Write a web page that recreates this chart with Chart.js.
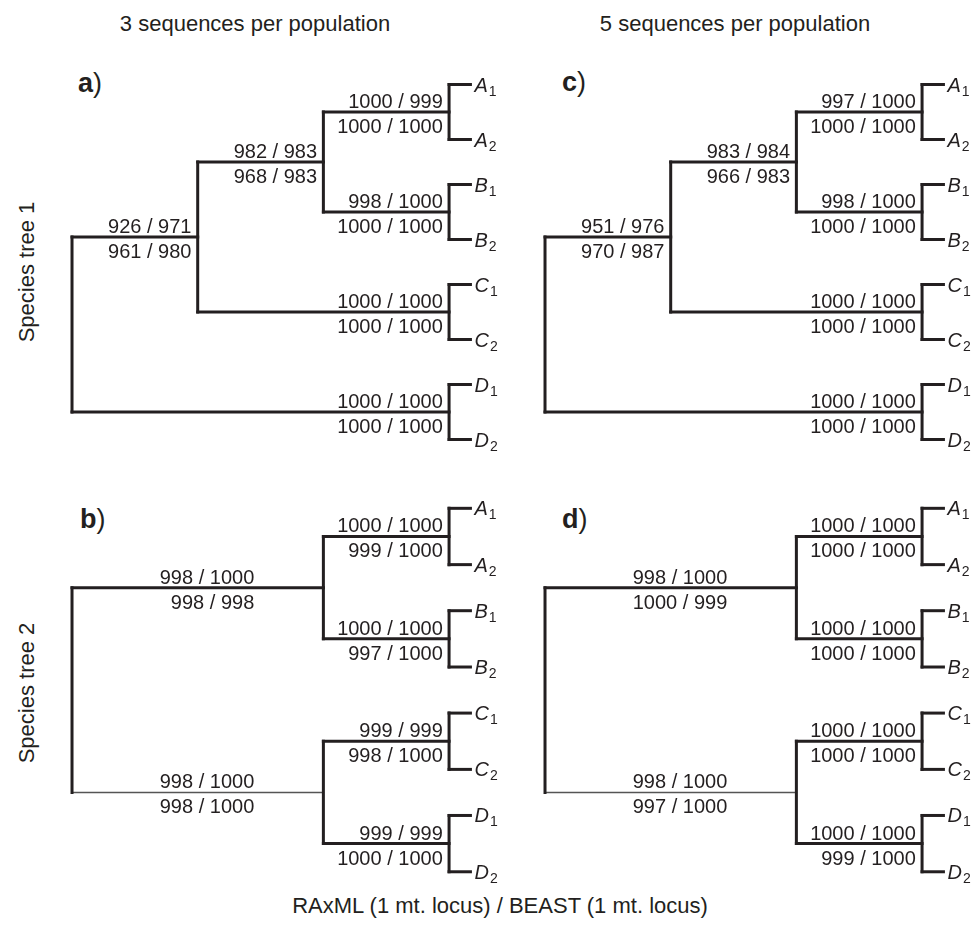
<!DOCTYPE html>
<html>
<head>
<meta charset="utf-8">
<script src="https://cdn.jsdelivr.net/npm/chart.js@4.4.1/dist/chart.umd.min.js"></script>
<style>
    body {
        margin: 0;
        width: 979px;
        height: 942px;
        background: #fff;
        position: relative;
        overflow: hidden;
        font-family: 'Liberation Sans', Arial, sans-serif;
        color: #231f20;
    }
    canvas { position: absolute; }
    .label { position: absolute; white-space: nowrap; }
    .title { font-size: 22px; transform: translate(-50%, -50%); }
    .side { font-size: 22px; transform: translate(-50%, -50%) rotate(-90deg); }
    .letter { font-size: 27px; line-height: 1; }
    .letter b { font-weight: bold; }
</style>
</head>
<body>

<div class="label title" style="left:255px; top:24px;">3 sequences per population</div>
<div class="label title" style="left:735px; top:24px;">5 sequences per population</div>
<div class="label side" style="left:27px; top:272px;">Species tree 1</div>
<div class="label side" style="left:27px; top:693px;">Species tree 2</div>
<div class="label title" style="left:500px; top:906px; font-size:22px;">RAxML (1 mt. locus) / BEAST (1 mt. locus)</div>

<div class="label letter" style="left:78px; top:70px;"><b>a</b>)</div>
<div class="label letter" style="left:80px; top:506px;"><b>b</b>)</div>
<div class="label letter" style="left:562px; top:69px;"><b>c</b>)</div>
<div class="label letter" style="left:562px; top:506px;"><b>d</b>)</div>

<canvas id="panelA" width="506" height="420" style="left:0px; top:50px;"></canvas>
<canvas id="panelB" width="506" height="430" style="left:0px; top:473px;"></canvas>
<canvas id="panelC" width="506" height="420" style="left:473px; top:50px;"></canvas>
<canvas id="panelD" width="506" height="430" style="left:473px; top:473px;"></canvas>

<script>
// Species tree topologies (populations A-D, two sampled individuals each)
const treeOne = [[['A', 'B'], 'C'], 'D'];
const treeTwo = [['A', 'B'], ['C', 'D']];
const individuals = ['1', '2'];

// Support values per branch, pre-order: upper label / lower label
// tree one order: ABC, AB, A, B, C, D
const supportAUpper = ['926 / 971', '982 / 983', '1000 / 999', '998 / 1000', '1000 / 1000', '1000 / 1000'];
const supportALower = ['961 / 980', '968 / 983', '1000 / 1000', '1000 / 1000', '1000 / 1000', '1000 / 1000'];
const supportCUpper = ['951 / 976', '983 / 984', '997 / 1000', '998 / 1000', '1000 / 1000', '1000 / 1000'];
const supportCLower = ['970 / 987', '966 / 983', '1000 / 1000', '1000 / 1000', '1000 / 1000', '1000 / 1000'];
// tree two order: AB, A, B, CD, C, D
const supportBUpper = ['998 / 1000', '1000 / 1000', '1000 / 1000', '998 / 1000', '999 / 999', '999 / 999'];
const supportBLower = ['998 / 998', '999 / 1000', '997 / 1000', '998 / 1000', '998 / 1000', '1000 / 1000'];
const supportDUpper = ['998 / 1000', '1000 / 1000', '1000 / 1000', '998 / 1000', '1000 / 1000', '1000 / 1000'];
const supportDLower = ['1000 / 999', '1000 / 1000', '1000 / 1000', '997 / 1000', '1000 / 1000', '999 / 1000'];

const INK = '#231f20';
const TIP_SPREAD = 0.55;
const STUB = 0.17;

// Build node positions: x = depth (root 0, populations 3), y = row
function buildTree(tree) {
    let pairIndex = 0;
    const heightOf = n => typeof n === 'string' ? 0 : 1 + Math.max(...n.map(heightOf));
    function build(n, isRoot) {
        if (typeof n === 'string') {
            const y = pairIndex * 2;
            pairIndex++;
            return { name: n, depth: 3, y: y, children: [], pop: true };
        }
        const kids = n.map(c => build(c, false));
        return {
            name: kids.map(k => k.name).join(''),
            depth: isRoot ? 0 : 3 - heightOf(n),
            y: (kids[0].y + kids[kids.length - 1].y) / 2,
            children: kids,
            pop: false,
        };
    }
    return build(tree, true);
}

function branchList(root) {
    const out = [];
    (function walk(node) {
        node.children.forEach(c => {
            out.push({ node: c, parent: node });
            walk(c);
        });
    })(root);
    return out;
}

function segment(x0, y0, x1, y1, width, color) {
    return {
        data: [{ x: x0, y: y0 }, { x: x1, y: y1 }],
        borderColor: color || INK,
        borderWidth: width || 3,
        showLine: true,
        pointRadius: 0,
        fill: false,
        borderCapStyle: 'square',
    };
}

function drawPanel(canvasId, tree, upper, lower, thinBranch) {
    const root = buildTree(tree);
    const branches = branchList(root);
    const datasets = [];

    // vertical connector of every internal node
    (function verticals(node) {
        if (!node.children.length) return;
        const first = node.children[0];
        const last = node.children[node.children.length - 1];
        datasets.push(segment(node.depth, first.y, node.depth, last.y));
        node.children.forEach(verticals);
    })(root);

    // horizontal branches
    branches.forEach(b => {
        if (b.node.name === thinBranch) {
            datasets.push(segment(b.parent.depth, b.node.y, b.node.depth, b.node.y, 1.5, '#555555'));
        } else {
            datasets.push(segment(b.parent.depth, b.node.y, b.node.depth, b.node.y));
        }
        if (b.node.pop) {
            const d = b.node.depth;
            datasets.push(segment(d, b.node.y - TIP_SPREAD, d, b.node.y + TIP_SPREAD));
            [-1, 1].forEach(s => {
                datasets.push(segment(d, b.node.y + s * TIP_SPREAD, d + STUB, b.node.y + s * TIP_SPREAD));
            });
        }
    });

    // Support values and tip names
    const treeText = {
        id: 'treeText',
        afterDatasetsDraw(chart) {
            const ctx = chart.ctx;
            const xs = chart.scales.x;
            const ys = chart.scales.y;
            ctx.save();
            ctx.fillStyle = INK;
            ctx.textBaseline = 'alphabetic';
            branches.forEach((b, i) => {
                const span = b.node.depth - b.parent.depth;
                const anchor = (!b.node.pop && span > 1) ? b.node.depth - 0.55 : b.node.depth - 0.05;
                const px = xs.getPixelForValue(anchor);
                const py = ys.getPixelForValue(b.node.y);
                ctx.font = '20px "Liberation Sans", Arial, sans-serif';
                ctx.textAlign = 'right';
                ctx.fillText(upper[i], px, py - 4);
                ctx.fillText(lower[i], px, py + 21);

                if (b.node.pop) {
                    ctx.textAlign = 'left';
                    [-1, 1].forEach((s, k) => {
                        const tx = xs.getPixelForValue(b.node.depth + STUB) + 4;
                        const ty = ys.getPixelForValue(b.node.y + s * TIP_SPREAD);
                        ctx.font = 'italic 20px "Liberation Sans", Arial, sans-serif';
                        ctx.fillText(b.node.name, tx, ty + 7);
                        const w = ctx.measureText(b.node.name).width;
                        ctx.font = '14px "Liberation Sans", Arial, sans-serif';
                        ctx.fillText(individuals[k], tx + w + 1, ty + 11);
                    });
                }
            });
            ctx.restore();
        },
    };

    new Chart(document.getElementById(canvasId), {
        type: 'scatter',
        data: { datasets: datasets },
        options: {
            responsive: false,
            animation: false,
            events: [],
            layout: { padding: 0 },
            plugins: {
                legend: { display: false },
                tooltip: { enabled: false },
            },
            scales: {
                x: { type: 'linear', display: false, min: -0.573, max: 3.453 },
                y: { type: 'linear', display: false, reverse: true, min: -1.24, max: 7.16 },
            },
        },
        plugins: [treeText],
    });
}

document.addEventListener('DOMContentLoaded', () => {
    drawPanel('panelA', treeOne, supportAUpper, supportALower, null);
    drawPanel('panelC', treeOne, supportCUpper, supportCLower, null);
    drawPanel('panelB', treeTwo, supportBUpper, supportBLower, 'CD');
    drawPanel('panelD', treeTwo, supportDUpper, supportDLower, 'CD');
});
</script>
</body>
</html>
